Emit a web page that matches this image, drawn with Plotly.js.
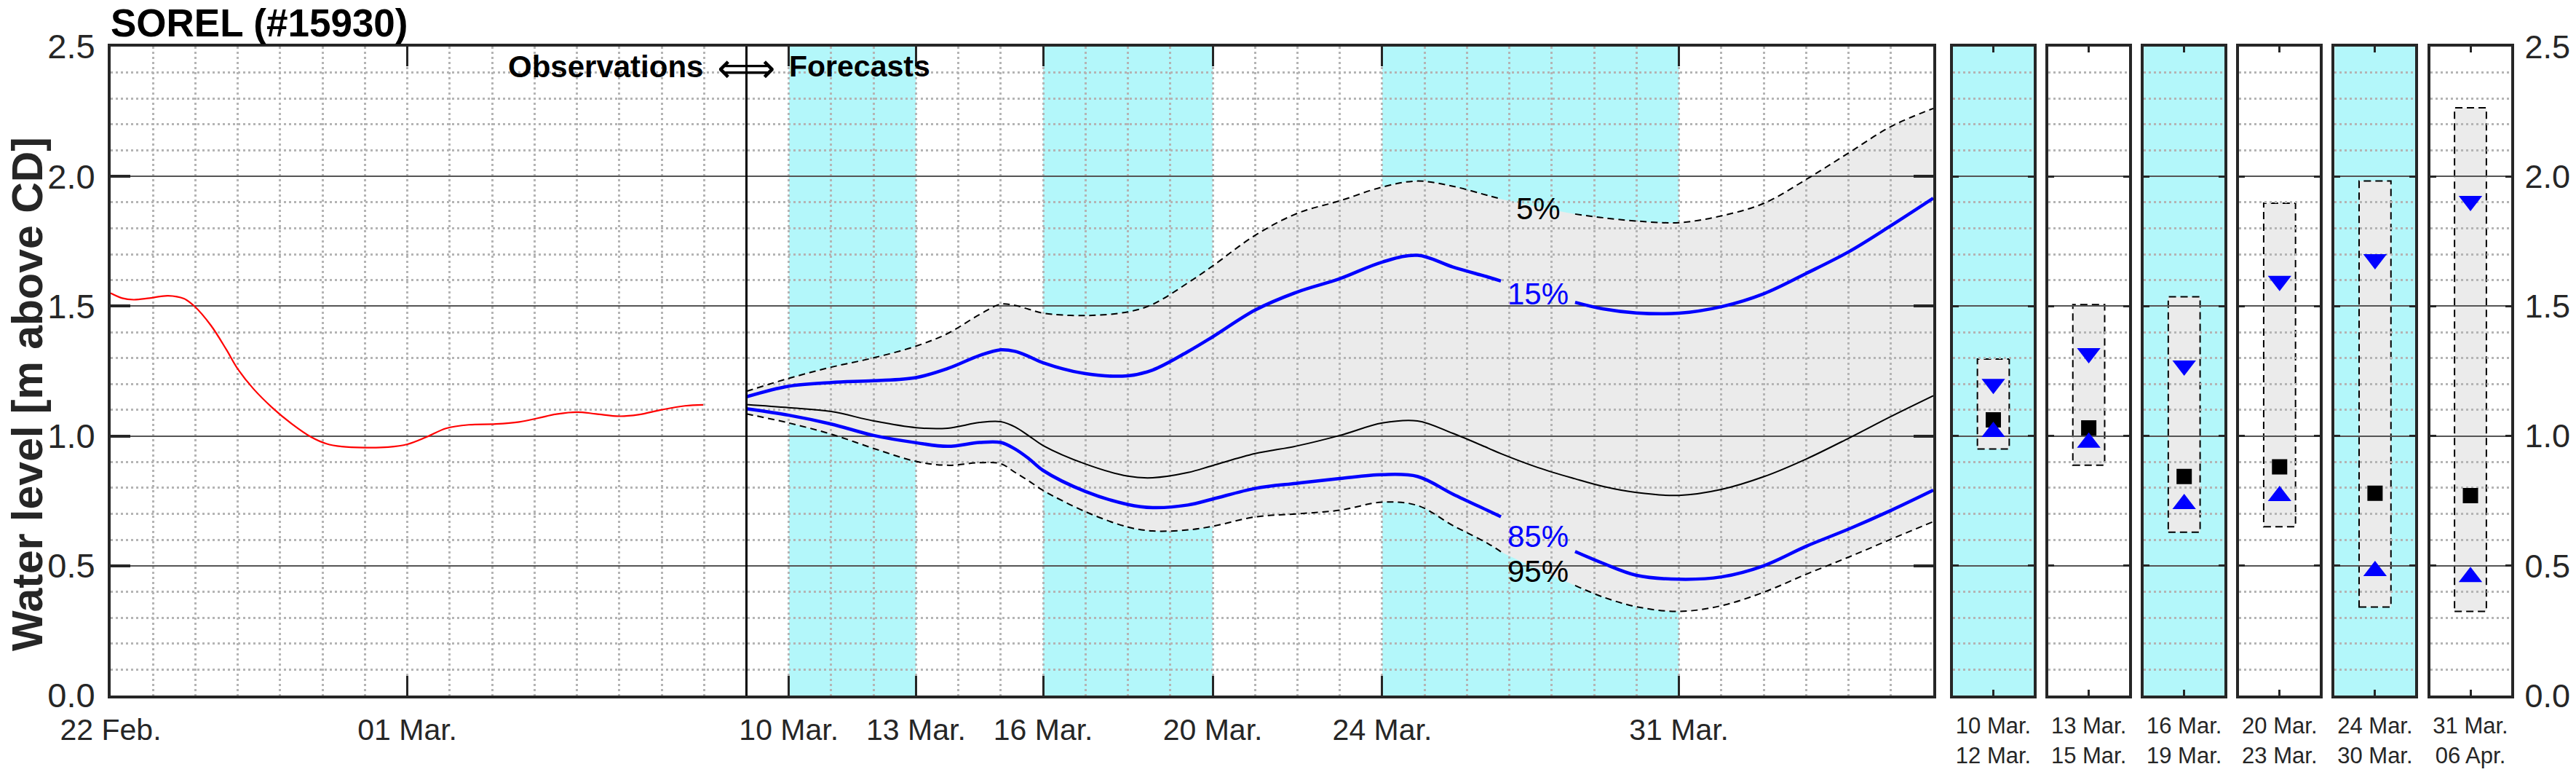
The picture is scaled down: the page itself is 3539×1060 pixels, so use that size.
<!DOCTYPE html>
<html>
<head>
<meta charset="utf-8">
<script src="https://cdn.plot.ly/plotly-3.0.1.min.js"></script>
<style>
html,body{margin:0;padding:0;background:#ffffff;}
#chart{width:3539px;height:1060px;}
</style>
</head>
<body>
<div id="chart"></div>
<script>
// ---------------- DATA ----------------
const stationTitle = 'SOREL (#15930)';
const dateStart = '2023-02-22';
const dateEnd = '2023-04-06';
const forecastStart = '2023-03-09';

// observed water level (red)
const obsTime = ['2023-02-22 00:00','2023-02-22 06:30','2023-02-22 13:00','2023-02-22 22:00','2023-02-23 08:30',
  '2023-02-23 17:30','2023-02-23 23:15','2023-02-24 08:45','2023-02-24 17:30','2023-02-25 00:00',
  '2023-02-25 08:40','2023-02-25 19:40','2023-02-26 06:30','2023-02-26 17:30','2023-02-27 02:10',
  '2023-02-27 10:50','2023-02-28 00:00','2023-02-28 13:10','2023-03-01 00:00','2023-03-01 10:50',
  '2023-03-01 21:50','2023-03-02 10:50','2023-03-03 02:10','2023-03-03 15:20','2023-03-04 02:10',
  '2023-03-04 13:10','2023-03-05 00:00','2023-03-05 10:50','2023-03-06 00:00','2023-03-06 10:50',
  '2023-03-07 00:00','2023-03-07 13:10','2023-03-07 23:30'];
const obsLevel = [1.550,1.531,1.525,1.531,1.540,
  1.529,1.501,1.426,1.333,1.258,
  1.183,1.108,1.047,0.996,0.970,
  0.959,0.955,0.957,0.968,0.996,
  1.029,1.043,1.046,1.054,1.069,
  1.085,1.092,1.085,1.076,1.082,
  1.101,1.116,1.120];

// forecast percentiles (null where the curve label sits)
const fcTime = ['2023-03-09 00:00','2023-03-10 00:00','2023-03-11 00:00','2023-03-12 00:00','2023-03-13 00:00',
  '2023-03-13 18:00','2023-03-14 12:00','2023-03-15 00:00','2023-03-15 08:00','2023-03-15 16:00',
  '2023-03-16 00:00','2023-03-17 00:00','2023-03-18 00:00','2023-03-18 14:00','2023-03-19 10:00',
  '2023-03-20 00:00','2023-03-21 00:00','2023-03-22 00:00','2023-03-23 00:00','2023-03-24 00:00',
  '2023-03-24 20:00','2023-03-25 16:00','2023-03-26 12:00','2023-03-26 19:12','2023-03-27 16:20',
  '2023-03-28 13:12','2023-03-29 04:48','2023-03-30 00:00','2023-03-31 00:00','2023-04-01 00:00',
  '2023-04-02 00:00','2023-04-03 00:00','2023-04-04 00:00','2023-04-05 00:00','2023-04-06 00:00'];
const p5  = [1.172,1.222,1.265,1.301,1.346, 1.395,1.468,1.508,1.503,1.488, 1.473,1.464,1.478,1.507,1.590,
  1.655,1.773,1.858,1.906,1.959, 1.982,1.962,1.926,1.913,null, 1.855,1.841,1.828,1.822,1.848,
  1.896,1.988,2.090,2.192,2.262];
const p15 = [1.151,1.192,1.206,1.213,1.225, 1.260,1.310,1.332,1.326,1.306, 1.282,1.240,1.232,1.254,1.325,
  1.382,1.485,1.555,1.606,1.670, 1.696,1.651,1.612,1.597,null, 1.515,1.490,1.474,1.473,1.498,
  1.548,1.626,1.709,1.810,1.916];
const p50 = [1.121,1.109,1.094,1.058,1.032, 1.030,1.052,1.055,1.035,1.000, 0.963,0.892,0.845,0.839,0.859,
  0.886,0.932,0.962,1.002,1.050, 1.058,1.010,0.953,0.932,0.878, 0.835,0.806,0.782,0.771,0.794,
  0.843,0.911,0.991,1.075,1.155];
const p85 = [1.105,1.080,1.046,1.002,0.974, 0.960,0.975,0.975,0.950,0.912, 0.867,0.786,0.736,0.724,0.734,
  0.757,0.798,0.818,0.836,0.851, 0.844,0.776,0.712,0.689,null, 0.555,0.510,0.463,0.448,0.457,
  0.500,0.575,0.641,0.713,0.791];
const p95 = [1.085,1.050,1.007,0.952,0.902, 0.887,0.897,0.893,0.860,0.826, 0.790,0.708,0.649,0.634,0.638,
  0.652,0.688,0.700,0.714,0.745, 0.732,0.655,0.585,0.554,null, 0.424,0.380,0.342,0.324,0.346,
  0.398,0.467,0.533,0.602,0.670];

// curve labels
const labelTime = '2023-03-27 16:20';
const labelText = ['5%','15%','85%','95%'];
const labelLevel = [1.875,1.547,0.614,0.479];
const labelColor = ['#000000','#0000ff','#0000ff','#000000'];

// shaded periods in the main panel
const bandStart = ['2023-03-10','2023-03-16','2023-03-24'];
const bandEnd   = ['2023-03-13','2023-03-20','2023-03-31'];

// main x ticks
const xTickVals = ['2023-02-22','2023-03-01','2023-03-10','2023-03-13','2023-03-16','2023-03-20','2023-03-24','2023-03-31'];
const xTickText = ['22 Feb.','01 Mar.','10 Mar.','13 Mar.','16 Mar.','20 Mar.','24 Mar.','31 Mar.'];

// period summary panels
const periodLabel = ['10 Mar.<br>12 Mar.','13 Mar.<br>15 Mar.','16 Mar.<br>19 Mar.','20 Mar.<br>23 Mar.','24 Mar.<br>30 Mar.','31 Mar.<br>06 Apr.'];
const periodShaded = [true,false,true,false,true,false];
const periodP5  = [1.296,1.506,1.536,1.897,1.982,2.264];
const periodP15 = [1.200,1.319,1.271,1.597,1.681,1.905];
const periodP50 = [1.062,1.031,0.844,0.881,0.779,0.770];
const periodP85 = [1.016,0.974,0.738,0.769,0.480,0.457];
const periodP95 = [0.950,0.887,0.629,0.650,0.341,0.324];

// ---------------- STYLE / LAYOUT ----------------
const W = 3539, H = 1060;
const px = v => v / W;
const py = v => 1 - v / H;
const FONT = 'Liberation Sans, Arial, Helvetica, sans-serif';
const INK = '#262626';
const CYAN = '#b3f7fa';
const BAND = '#ebebeb';
const DOT = '#b4b4b4';
const MAJ = '#555555';
const BLUE = '#0000ff';

const mainDom = [px(152), px(2656)];
const yDom = [py(955), py(64)];

const traces = [];
const fillIdx = fcTime.map((t, i) => i).filter(i => p5[i] !== null && p95[i] !== null);
traces.push({x: fillIdx.map(i => fcTime[i]), y: fillIdx.map(i => p95[i]), mode: 'lines',
  line: {width: 0, shape: 'spline'}, xaxis: 'x', yaxis: 'y', hoverinfo: 'skip'});
traces.push({x: fillIdx.map(i => fcTime[i]), y: fillIdx.map(i => p5[i]), mode: 'lines',
  line: {width: 0, shape: 'spline'}, fill: 'tonexty', fillcolor: BAND, xaxis: 'x', yaxis: 'y', hoverinfo: 'skip'});

traces.push({x: obsTime, y: obsLevel, mode: 'lines', line: {color: '#ff0000', width: 2.2, shape: 'spline'}, xaxis: 'x2', yaxis: 'y2'});
traces.push({x: fcTime, y: p50, mode: 'lines', line: {color: '#000000', width: 2, shape: 'spline'}, xaxis: 'x2', yaxis: 'y2'});
traces.push({x: fcTime, y: p15, mode: 'lines', connectgaps: false, line: {color: BLUE, width: 4.5, shape: 'spline'}, xaxis: 'x2', yaxis: 'y2'});
traces.push({x: fcTime, y: p85, mode: 'lines', connectgaps: false, line: {color: BLUE, width: 4.5, shape: 'spline'}, xaxis: 'x2', yaxis: 'y2'});
traces.push({x: fcTime, y: p5, mode: 'lines', connectgaps: false, line: {color: '#000000', width: 2, dash: '9px,6px', shape: 'spline'}, xaxis: 'x2', yaxis: 'y2'});
traces.push({x: fcTime, y: p95, mode: 'lines', connectgaps: false, line: {color: '#000000', width: 2, dash: '9px,6px', shape: 'spline'}, xaxis: 'x2', yaxis: 'y2'});

const layout = {
  width: W, height: H,
  margin: {l: 0, r: 0, t: 0, b: 0, pad: 0},
  paper_bgcolor: '#ffffff',
  plot_bgcolor: 'rgba(0,0,0,0)',
  showlegend: false,
  font: {family: FONT, color: INK},
  xaxis: {domain: mainDom, anchor: 'y', type: 'date', range: [dateStart, dateEnd], visible: false},
  yaxis: {domain: yDom, anchor: 'x', range: [0, 2.5], visible: false},
  xaxis2: {domain: mainDom, anchor: 'y2', type: 'date', range: [dateStart, dateEnd],
    tickmode: 'array', tickvals: xTickVals, ticktext: xTickText,
    ticks: 'inside', ticklen: 27, tickwidth: 3, tickcolor: INK,
    showline: true, linewidth: 4, linecolor: INK, mirror: 'ticks', zeroline: false,
    showgrid: true, gridcolor: DOT, griddash: '3px,4px', gridwidth: 3,
    minor: {tick0: dateStart, dtick: 86400000, showgrid: true, gridcolor: DOT, griddash: '3px,4px', gridwidth: 3, ticks: ''},
    tickfont: {family: FONT, size: 41, color: INK}, ticklabelstandoff: 8},
  yaxis2: {domain: yDom, anchor: 'x2', range: [0, 2.5], tickmode: 'linear', tick0: 0, dtick: 0.5, tickformat: '.1f',
    ticks: 'inside', ticklen: 27, tickwidth: 4, tickcolor: INK,
    showline: true, linewidth: 4, linecolor: INK, mirror: 'ticks', zeroline: false,
    showgrid: true, gridcolor: MAJ, gridwidth: 2,
    minor: {tick0: 0, dtick: 0.1, showgrid: true, gridcolor: DOT, griddash: '3px,4px', gridwidth: 3, ticks: ''},
    tickfont: {family: FONT, size: 47, color: INK}, ticklabelstandoff: 8},
  shapes: [],
  annotations: []
};

// cyan bands (main)
for (let j = 0; j < bandStart.length; j++) {
  layout.shapes.push({type: 'rect', xref: 'x', yref: 'y domain', x0: bandStart[j], x1: bandEnd[j], y0: 0, y1: 1,
    fillcolor: CYAN, line: {width: 0}, layer: 'below'});
}

// period panels
for (let i = 0; i < periodLabel.length; i++) {
  const n = 3 + i;
  const left = 2683 + 131.1 * i;
  const last = i === periodLabel.length - 1;
  layout['xaxis' + n] = {domain: [px(left), px(left + 111)], anchor: 'y' + n, type: 'category', range: [-0.5, 0.5],
    ticks: 'inside', ticklen: 8, tickwidth: 3, tickcolor: INK,
    showline: true, linewidth: 4, linecolor: INK, mirror: 'ticks', showgrid: false, zeroline: false,
    tickfont: {family: FONT, size: 31, color: INK}, ticklabelstandoff: 11};
  layout['yaxis' + n] = {domain: yDom, anchor: 'x' + n, range: [0, 2.5], tickmode: 'linear', tick0: 0, dtick: 0.5, tickformat: '.1f',
    ticks: 'inside', ticklen: 8, tickwidth: 3, tickcolor: INK,
    showline: true, linewidth: 4, linecolor: INK, mirror: 'ticks', zeroline: false,
    showgrid: true, gridcolor: MAJ, gridwidth: 2,
    minor: {tick0: 0, dtick: 0.1, showgrid: true, gridcolor: DOT, griddash: '3px,4px', gridwidth: 3, ticks: ''},
    showticklabels: last, side: last ? 'right' : 'left',
    tickfont: {family: FONT, size: 45, color: INK}, ticklabelstandoff: 6};
  if (periodShaded[i]) {
    layout.shapes.push({type: 'rect', xref: 'x' + n + ' domain', yref: 'y' + n + ' domain', x0: 0, x1: 1, y0: 0, y1: 1,
      fillcolor: CYAN, line: {width: 0}, layer: 'below'});
  }
  layout.shapes.push({type: 'rect', xref: 'x' + n, yref: 'y' + n, x0: -0.197, x1: 0.197, y0: periodP95[i], y1: periodP5[i],
    fillcolor: BAND, line: {color: '#000000', width: 2, dash: '10px,6px'}, layer: 'below'});
  traces.push({x: [periodLabel[i]], y: [periodP50[i]], mode: 'markers', marker: {symbol: 'square', size: 21, color: '#000000'},
    xaxis: 'x' + n, yaxis: 'y' + n});
  traces.push({x: [periodLabel[i]], y: [periodP15[i]], mode: 'markers', marker: {symbol: 'triangle-down', size: 28, color: BLUE},
    xaxis: 'x' + n, yaxis: 'y' + n});
  traces.push({x: [periodLabel[i]], y: [periodP85[i]], mode: 'markers', marker: {symbol: 'triangle-up', size: 28, color: BLUE},
    xaxis: 'x' + n, yaxis: 'y' + n});
}

// observation / forecast separator
layout.shapes.push({type: 'line', xref: 'x2', yref: 'y2 domain', x0: forecastStart, x1: forecastStart, y0: 0, y1: 1,
  line: {color: '#000000', width: 3}, layer: 'above'});

// curve labels
for (let k = 0; k < labelText.length; k++) {
  layout.annotations.push({xref: 'x2', yref: 'y2', x: labelTime, y: labelLevel[k], text: labelText[k], showarrow: false,
    xanchor: 'center', yanchor: 'middle', font: {family: FONT, size: 42, color: labelColor[k]}});
}

// titles and texts
layout.annotations.push({xref: 'paper', yref: 'paper', x: px(150), y: 1, xanchor: 'left', yanchor: 'top',
  text: '<b>' + stationTitle + '</b>', showarrow: false, font: {family: FONT, size: 53, color: '#000000'}});
layout.annotations.push({xref: 'paper', yref: 'paper', x: px(38), y: py(541), xanchor: 'center', yanchor: 'middle',
  textangle: -90, text: '<b>Water level [m above CD]</b>', showarrow: false, font: {family: FONT, size: 59, color: INK}});
layout.annotations.push({xref: 'paper', yref: 'paper', x: px(968), y: py(91), xanchor: 'right', yanchor: 'middle',
  text: '<b>Observations</b>', showarrow: false, font: {family: FONT, size: 42, color: '#000000'}});
layout.annotations.push({xref: 'paper', yref: 'paper', x: px(1025), y: py(93), xanchor: 'center', yanchor: 'middle',
  text: '\u27FA', showarrow: false, font: {family: 'DejaVu Sans, sans-serif', size: 56, color: '#000000'}});
layout.annotations.push({xref: 'paper', yref: 'paper', x: px(1082), y: py(91), xanchor: 'left', yanchor: 'middle',
  text: '<b>Forecasts</b>', showarrow: false, font: {family: FONT, size: 41, color: '#000000'}});

traces.forEach(t => { t.showlegend = false; if (!t.hoverinfo) t.hoverinfo = 'skip'; });

Plotly.newPlot('chart', traces, layout, {staticPlot: true, displayModeBar: false});
</script>
</body>
</html>
